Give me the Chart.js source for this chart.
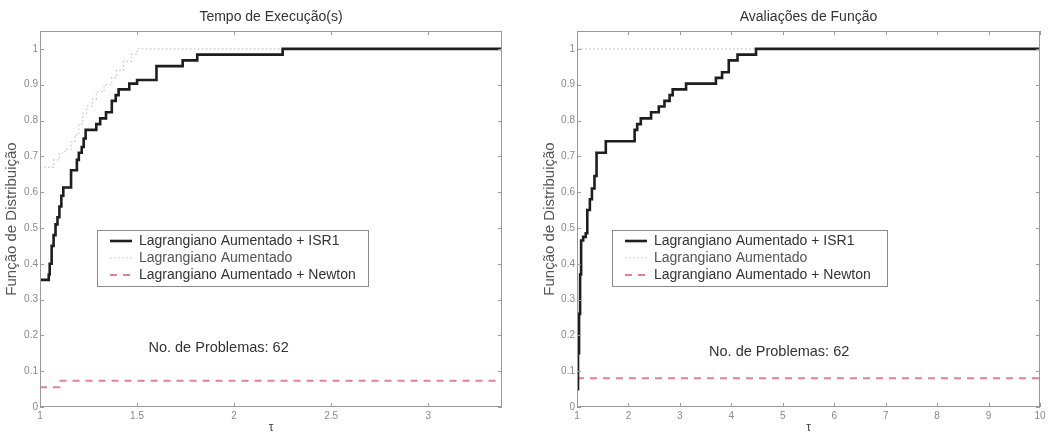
<!DOCTYPE html>
<html>
<head>
<meta charset="utf-8">
<script src="https://cdn.jsdelivr.net/npm/chart.js@4.4.1/dist/chart.umd.min.js"></script>
<style>
    html, body { margin: 0; padding: 0; background: #fff; }
    #wrap { position: relative; width: 1060px; height: 435px; }
    canvas { position: absolute; top: 0; }
    #leftChart { left: 0; }
    #rightChart { left: 530px; }
</style>
</head>
<body>
<div id="wrap">
    <canvas id="leftChart" width="530" height="435"></canvas>
    <canvas id="rightChart" width="530" height="435"></canvas>
</div>
<script>
// ----- データ -----
const seriesNames = ['Lagrangiano Aumentado + ISR1', 'Lagrangiano Aumentado', 'Lagrangiano Aumentado + Newton'];
const yTicks = [0, 0.1, 0.2, 0.3, 0.4, 0.5, 0.6, 0.7, 0.8, 0.9, 1];

// 左: Tempo de Execução(s)
const tempoXTicks = [1, 1.5, 2, 2.5, 3];
const tempoIsr1Tau = [1.00, 1.045, 1.05, 1.06, 1.07, 1.08, 1.09, 1.10, 1.11, 1.12, 1.16, 1.19, 1.20, 1.215, 1.225, 1.235, 1.29, 1.31, 1.34, 1.37, 1.39, 1.405, 1.46, 1.50, 1.60, 1.735, 1.81, 2.25, 3.38];
const tempoIsr1Val = [0.355, 0.37, 0.40, 0.45, 0.48, 0.51, 0.53, 0.56, 0.59, 0.613, 0.661, 0.69, 0.71, 0.726, 0.75, 0.774, 0.79, 0.806, 0.823, 0.855, 0.871, 0.887, 0.903, 0.913, 0.952, 0.968, 0.984, 1.0, 1.0];
const tempoLaTau = [1.00, 1.07, 1.10, 1.13, 1.16, 1.18, 1.20, 1.22, 1.24, 1.27, 1.29, 1.33, 1.37, 1.395, 1.43, 1.47, 1.50, 3.38];
const tempoLaVal = [0.67, 0.69, 0.71, 0.72, 0.74, 0.76, 0.79, 0.82, 0.84, 0.86, 0.88, 0.90, 0.92, 0.94, 0.965, 0.985, 1.0, 1.0];
const tempoNewtonTau = [1.00, 1.10, 3.38];
const tempoNewtonVal = [0.055, 0.073, 0.073];

// 右: Avaliações de Função
const avalXTicks = [1, 2, 3, 4, 5, 6, 7, 8, 9, 10];
const avalIsr1Tau = [1.00, 1.02, 1.04, 1.06, 1.08, 1.12, 1.17, 1.20, 1.25, 1.29, 1.34, 1.38, 1.56, 2.12, 2.17, 2.24, 2.44, 2.59, 2.70, 2.80, 2.86, 3.12, 3.70, 3.82, 3.95, 4.12, 4.48, 10];
const avalIsr1Val = [0.05, 0.15, 0.26, 0.37, 0.465, 0.475, 0.485, 0.55, 0.58, 0.61, 0.645, 0.71, 0.742, 0.774, 0.79, 0.806, 0.823, 0.839, 0.855, 0.871, 0.887, 0.903, 0.919, 0.935, 0.968, 0.984, 1.0, 1.0];
const avalLaTau = [1.00, 10];
const avalLaVal = [1.0, 1.0];
const avalNewtonTau = [1.00, 10];
const avalNewtonVal = [0.08, 0.08];

const FONT = '"Liberation Sans", Arial, Helvetica, sans-serif';

function toPoints(xs, ys) {
    return xs.map((x, i) => ({ x: x, y: ys[i] }));
}

// MATLAB風の枠と内向きの目盛り、凡例、注記を描くプラグイン
const matlabBox = {
    id: 'matlabBox',
    afterDatasetsDraw(chart, args, opts) {
        const { ctx, chartArea: a, scales } = chart;
        ctx.save();
        ctx.strokeStyle = '#9a9a9a';
        ctx.lineWidth = 1;
        ctx.strokeRect(a.left + 0.5, a.top + 0.5, a.right - a.left - 1, a.bottom - a.top - 1);
        ctx.beginPath();
        scales.x.ticks.forEach(t => {
            const px = Math.round(scales.x.getPixelForValue(t.value)) + 0.5;
            ctx.moveTo(px, a.bottom); ctx.lineTo(px, a.bottom - 4);
            ctx.moveTo(px, a.top); ctx.lineTo(px, a.top + 4);
        });
        scales.y.ticks.forEach(t => {
            const py = Math.round(scales.y.getPixelForValue(t.value)) + 0.5;
            ctx.moveTo(a.left, py); ctx.lineTo(a.left + 4, py);
            ctx.moveTo(a.right, py); ctx.lineTo(a.right - 4, py);
        });
        ctx.stroke();

        // 注記テキスト
        ctx.fillStyle = '#333';
        ctx.font = '14.5px ' + FONT;
        ctx.textAlign = 'center';
        ctx.textBaseline = 'middle';
        ctx.fillText(opts.note, scales.x.getPixelForValue(opts.noteAt[0]), scales.y.getPixelForValue(opts.noteAt[1]));

        // 凡例
        const lx = a.left + opts.legendDx, ly = opts.legendTop;
        const lw = opts.legendW, lh = 56;
        ctx.fillStyle = '#fff';
        ctx.fillRect(lx, ly, lw, lh);
        ctx.strokeStyle = '#8a8a8a';
        ctx.strokeRect(lx + 0.5, ly + 0.5, lw, lh);
        ctx.font = '14px ' + FONT;
        chart.data.datasets.forEach((ds, i) => {
            const y = ly + 11 + i * 17;
            ctx.beginPath();
            ctx.strokeStyle = ds.borderColor;
            ctx.lineWidth = ds.borderWidth;
            ctx.setLineDash(ds.borderDash || []);
            ctx.moveTo(lx + 13, y);
            ctx.lineTo(lx + 35, y);
            ctx.stroke();
            ctx.setLineDash([]);
            ctx.fillStyle = i === 1 ? '#555' : '#333';
            ctx.textAlign = 'left';
            ctx.fillText(ds.label, lx + 42, y);
        });
        ctx.restore();
    }
};

function buildChart(canvasId, cfg) {
    return new Chart(document.getElementById(canvasId), {
        type: 'line',
        data: {
            datasets: [{
                label: seriesNames[0],
                data: toPoints(cfg.isr1Tau, cfg.isr1Val),
                borderColor: '#1e1e1e',
                borderWidth: 2.6,
                stepped: 'before'
            }, {
                label: seriesNames[1],
                data: toPoints(cfg.laTau, cfg.laVal),
                borderColor: '#c4c4c4',
                borderWidth: 1.2,
                borderDash: [1.5, 2.5],
                stepped: 'before'
            }, {
                label: seriesNames[2],
                data: toPoints(cfg.newtonTau, cfg.newtonVal),
                borderColor: '#e3809a',
                borderWidth: 2,
                borderDash: [7, 6],
                stepped: 'before'
            }]
        },
        options: {
            responsive: false,
            animation: false,
            elements: { point: { radius: 0 } },
            layout: { padding: { top: 0, left: 0, right: cfg.padRight, bottom: 0 } },
            plugins: {
                legend: { display: false },
                tooltip: { enabled: false },
                title: {
                    display: true,
                    fullSize: false,   // プロット領域の中央に揃える
                    text: cfg.title,
                    color: '#333',
                    font: { family: FONT, size: 14, weight: 'normal' },
                    padding: { top: 8.6, bottom: 5.6 }
                },
                matlabBox: {
                    note: 'No. de Problemas: 62',
                    noteAt: cfg.noteAt,
                    legendDx: cfg.legendDx,
                    legendTop: 230,
                    legendW: cfg.legendW
                }
            },
            scales: {
                x: {
                    type: 'linear',
                    min: cfg.xMin,
                    max: cfg.xMax,
                    grid: { display: false, drawTicks: false },
                    border: { display: false },
                    afterBuildTicks: s => { s.ticks = cfg.xTicks.map(v => ({ value: v })); },
                    afterFit: s => { s.height = 28; },
                    ticks: { color: '#8a8a8a', font: { family: FONT, size: 10 }, padding: 3, maxRotation: 0, callback: v => String(v) },
                    title: { display: true, text: 'τ', color: '#444', font: { family: FONT, size: 12 }, padding: { top: 0, bottom: 0 } }
                },
                y: {
                    min: 0,
                    max: 1.05,
                    grid: { display: false, drawTicks: false },
                    border: { display: false },
                    afterBuildTicks: s => { s.ticks = yTicks.map(v => ({ value: v })); },
                    afterFit: s => { s.width = cfg.yWidth; },
                    ticks: { color: '#8a8a8a', font: { family: FONT, size: 10 }, padding: 2, callback: v => String(v) },
                    title: { display: true, text: 'Função de Distribuição', color: '#555', font: { family: FONT, size: 15 }, padding: { top: cfg.yTitlePad, bottom: 0 } }
                }
            }
        },
        plugins: [matlabBox]
    });
}

buildChart('leftChart', {
    title: 'Tempo de Execução(s)',
    isr1Tau: tempoIsr1Tau, isr1Val: tempoIsr1Val,
    laTau: tempoLaTau, laVal: tempoLaVal,
    newtonTau: tempoNewtonTau, newtonVal: tempoNewtonVal,
    xMin: 1, xMax: 3.38, xTicks: tempoXTicks,
    padRight: 28, yWidth: 40, yTitlePad: 3,
    noteAt: [1.92, 0.164], legendDx: 57, legendW: 271
});

buildChart('rightChart', {
    title: 'Avaliações de Função',
    isr1Tau: avalIsr1Tau, isr1Val: avalIsr1Val,
    laTau: avalLaTau, laVal: avalLaVal,
    newtonTau: avalNewtonTau, newtonVal: avalNewtonVal,
    xMin: 1, xMax: 10, xTicks: avalXTicks,
    padRight: 20, yWidth: 47, yTitlePad: 11,
    noteAt: [4.93, 0.153], legendDx: 35, legendW: 275
});
</script>
</body>
</html>
